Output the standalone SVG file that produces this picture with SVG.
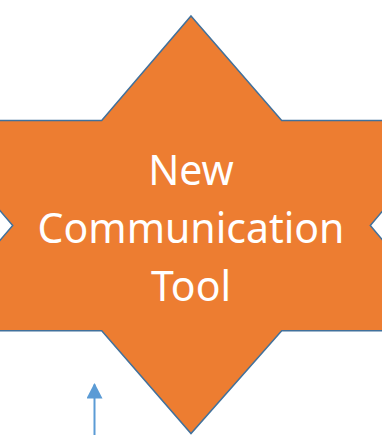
<svg xmlns="http://www.w3.org/2000/svg" width="382" height="435" viewBox="0 0 382 435">
<style>
.star{fill:#ED7D31;stroke:#41719C;stroke-width:1.5;stroke-linejoin:miter}
.lbl{fill:#FFFFFF;font-family:"Noto Sans","Open Sans",sans-serif;font-size:41px;text-anchor:middle}
.conn{stroke:#5B9BD5;stroke-width:2;fill:none}
</style>
<defs>
<marker id="ah" markerWidth="16" markerHeight="16" refX="14" refY="8" orient="auto" markerUnits="userSpaceOnUse" viewBox="0 0 16 16">
<polygon points="0,0 15.5,8 0,16" fill="#5B9BD5"/>
</marker>
</defs>
<rect width="382" height="435" fill="#FFFFFF"/>
<g id="star-node">
<polygon class="star" points="191,16 281.7,120.5 459,120.5 370.3,225.5 459,330.7 281.7,330.7 191,433.5 101.7,330.7 -77,330.7 12.7,225.5 -77,120.5 101.7,120.5"/>
<text class="lbl" x="191" y="185">New</text>
<text class="lbl" x="191" y="243">Communication</text>
<text class="lbl" x="191" y="301">Tool</text>
</g>
<g id="connectors">
<line class="conn" x1="94.5" y1="436" x2="94.5" y2="384.5" marker-end="url(#ah)"/>
</g>
</svg>
